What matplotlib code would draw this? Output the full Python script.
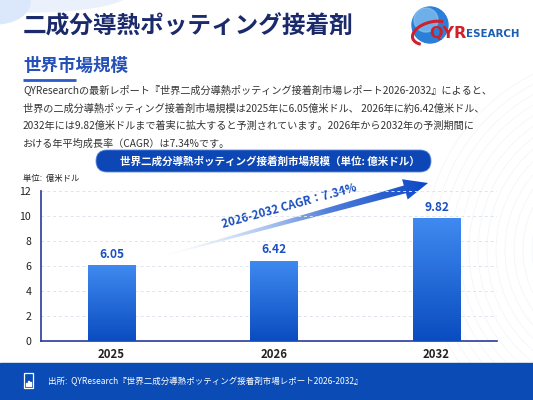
import numpy as np
import matplotlib
matplotlib.use("Agg")
import matplotlib.pyplot as plt
from matplotlib.patches import FancyBboxPatch, Rectangle, Polygon, Ellipse, Circle, Arc
from matplotlib.colors import LinearSegmentedColormap

plt.rcParams['font.family'] = ['Noto Sans CJK JP', 'DejaVu Sans']

# data
years = ['2025', '2026', '2032']
values = [6.05, 6.42, 9.82]
yticks = [0, 2, 4, 6, 8, 10, 12]
cagr_text = '2026-2032 CAGR：7.34%'

title = '二成分導熱ポッティング接着剤'
subtitle = '世界市場規模'
body = [
    'QYResearchの最新レポート『世界二成分導熱ポッティング接着剤市場レポート2026-2032』によると、',
    '世界の二成分導熱ポッティング接着剤市場規模は2025年に6.05億米ドル、 2026年に約6.42億米ドル、',
    '2032年には9.82億米ドルまで着実に拡大すると予測されています。2026年から2032年の予測期間に',
    'おける年平均成長率（CAGR）は7.34%です。',
]
chart_title = '世界二成分導熱ポッティング接着剤市場規模（単位: 億米ドル）'
unit_label = '単位:  億米ドル'
source = '出所:  QYResearch『世界二成分導熱ポッティング接着剤市場レポート2026-2032』'

navy = '#1b2a6b'
blue = '#1a4fc0'
dark_blue = '#0d47b5'

fig = plt.figure(figsize=(5.33, 4.0), dpi=100)
fig.patch.set_facecolor('white')

# background layer in pixel coords
bg = fig.add_axes([0, 0, 1, 1])
bg.set_xlim(0, 533)
bg.set_ylim(400, 0)
bg.axis('off')

bg.add_patch(Ellipse((30, -8), 200, 40, color='#eaf1fc', zorder=0))
bg.add_patch(Ellipse((-5, 2), 70, 44, color='#dbe7fa', zorder=0))
for r in range(70, 200, 9):
    bg.add_patch(Circle((620, 250), r, fill=False, ec='#f2f4f8', lw=0.5, zorder=0))

# titles
bg.text(23, 27, title, fontsize=17, fontweight='bold', color=navy, va='center', ha='left')
bg.text(23, 66, subtitle, fontsize=12.6, fontweight='bold', color='#2450b8', va='center', ha='left')
bg.plot([23, 76], [80, 80], color='#2a5bc8', lw=2, solid_capstyle='butt')
for i, line in enumerate(body):
    bg.text(23, 91 + i * 17.6, line, fontsize=7.3, color='#333333', va='center', ha='left')

# logo
bg.add_patch(Circle((430, 25), 18, color='#2a7fd8', zorder=2))
bg.add_patch(Circle((426, 20), 12, color='#8cc4f2', zorder=2, alpha=0.7))
bg.add_patch(Arc((432, 33), 40, 22, angle=-15, theta1=150, theta2=330, ec='#d0202a', lw=2.2, zorder=3))
bg.text(429, 33, 'QYR', fontsize=11.5, fontweight='bold', color='#d0202a', va='center', ha='left',
        family='DejaVu Sans', zorder=4)
bg.text(466, 34, 'ESEARCH', fontsize=7.4, fontweight='bold', color='#1a5fb4', va='center', ha='left',
        family='DejaVu Sans', zorder=4)

# chart title pill
bg.add_patch(FancyBboxPatch((96, 150), 335, 22, boxstyle='round,pad=0,rounding_size=11',
                            fc=dark_blue, ec='#5b86da', lw=0.6, zorder=2))
bg.text(270, 161, chart_title, fontsize=7.6, fontweight='bold', color='white', va='center',
        ha='center', zorder=3)
bg.text(23, 178, unit_label, fontsize=6, color='#222222', va='center', ha='left')

# footer
bg.add_patch(Rectangle((0, 363), 533, 37, color='#0b4bb6', zorder=1))
bg.add_patch(Rectangle((24, 373), 9, 15, fill=False, ec='white', lw=0.9, zorder=2))
for k, h in enumerate([3, 5, 4]):
    bg.add_patch(Rectangle((26 + k * 2, 386 - h), 1.2, h, color='white', zorder=3))
bg.text(48, 381, source, fontsize=6.1, color='white', va='center', ha='left', zorder=3)

# chart axes
ax = fig.add_axes([41 / 533, 59 / 400, 456 / 533, 150 / 400])
ax.set_facecolor('none')
x = np.arange(len(years))
bars = ax.bar(x, values, width=0.29, color='#2f6fe0', zorder=2)
cmap = LinearSegmentedColormap.from_list('bar', ['#0a4cc0', '#3f8af0'])
grad = np.linspace(0, 1, 256).reshape(-1, 1)
for b in bars:
    x0, w, h = b.get_x(), b.get_width(), b.get_height()
    im = ax.imshow(grad, extent=(x0, x0 + w, 0, h), origin='lower', cmap=cmap,
                   aspect='auto', zorder=3)
    im.set_clip_path(b)
    ax.text(x0 + w / 2, h + 0.35, f'{h:.2f}', ha='center', va='bottom', fontsize=8.6,
            fontweight='bold', color=blue, zorder=4)

ax.set_xlim(-0.434, 2.372)
ax.set_ylim(0, 12)
ax.set_yticks(yticks)
ax.set_xticks(x)
ax.set_xticklabels(years, fontsize=8.2, fontweight='bold', color='#222222')
ax.tick_params(axis='y', labelsize=7.6, colors='#222222', length=0, pad=7)
ax.tick_params(axis='x', length=0, pad=5)
ax.grid(axis='y', linestyle=(0, (3, 3)), color='#dde3ee', lw=0.7, zorder=0)
for s in ['top', 'right']:
    ax.spines[s].set_visible(False)
for s in ['left', 'bottom']:
    ax.spines[s].set_color('#2a3a9a')
    ax.spines[s].set_linewidth(1.2)

# CAGR arrow (pixel coords on the background layer)
p0 = np.array([163.0, 256.0])
tip = np.array([428.0, 183.0])
d = tip - p0
L = np.hypot(*d)
u = d / L
n = np.array([-u[1], u[0]])
base = p0 + u * (L - 24)
pts = [p0 + n * 0.4, base + n * 4, base + n * 10.5, tip, base - n * 10.5, base - n * 4, p0 - n * 0.4]
arrow = Polygon(pts, closed=True, fc='none', ec='none', zorder=5)
bg.add_patch(arrow)
xs = np.linspace(150, 440, 300)
ys = np.linspace(170, 270, 120)
X, Y = np.meshgrid(xs, ys)
t = np.clip(((X - p0[0]) * u[0] + (Y - p0[1]) * u[1]) / L, 0, 1)
rgba = np.zeros(X.shape + (4,))
c0 = np.array([0.75, 0.85, 0.98])
c1 = np.array([0.05, 0.28, 0.78])
for c in range(3):
    rgba[..., c] = c0[c] + (c1[c] - c0[c]) * t
rgba[..., 3] = np.clip(t * 1.6, 0, 1)
aim = bg.imshow(rgba, extent=(150, 440, 270, 170), origin='upper', zorder=5, interpolation='bilinear')
aim.set_clip_path(arrow)
bg.set_xlim(0, 533)
bg.set_ylim(400, 0)
bg.set_aspect('auto')
ang = np.degrees(np.arctan2(-d[1], d[0]))
bg.text(289, 206, cagr_text, fontsize=8.3, fontweight='bold', color=blue, rotation=ang,
        rotation_mode='anchor', ha='center', va='center', zorder=6)

fig.savefig('out.png', dpi=100)
